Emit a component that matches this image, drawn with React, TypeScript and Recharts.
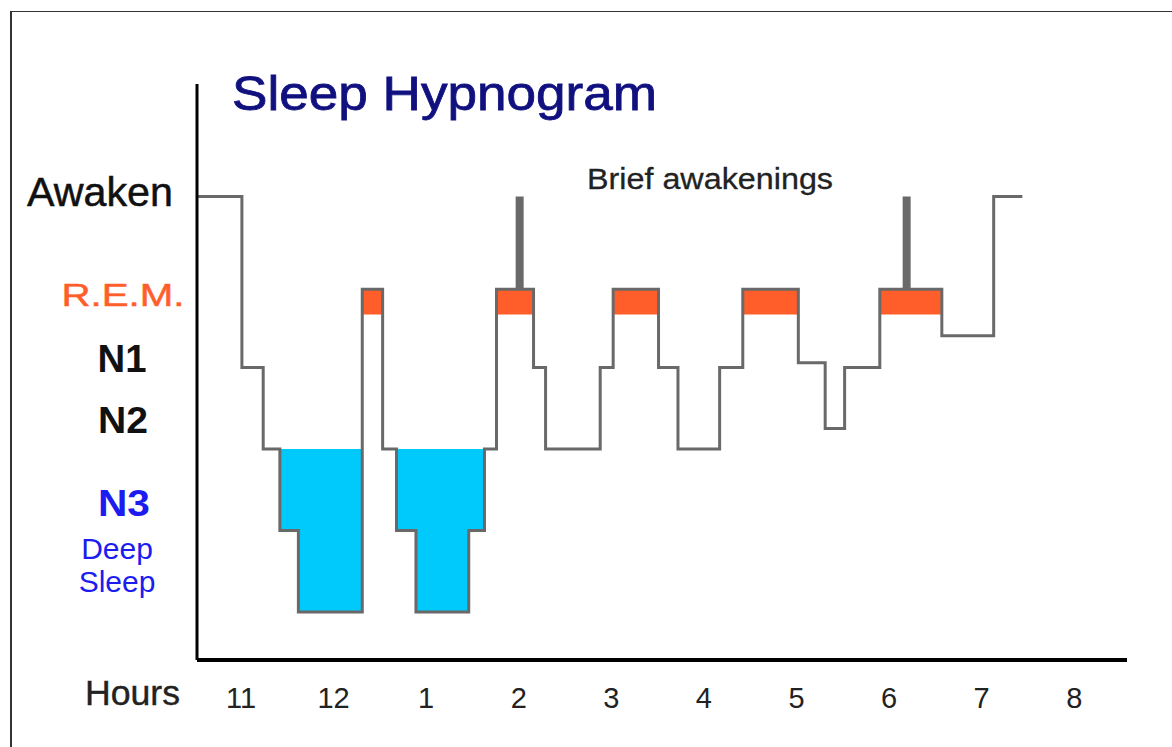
import { ComposedChart, Line, Area, XAxis, YAxis, ReferenceLine } from "recharts";

// stage levels on the y scale
const N4 = 0;
const N3 = 1;
const N2 = 2;
const N1 = 3;
const REM = 3.96;
const WAKE = 5.1;

// hours after 11 pm at which each stage starts, and the stage entered
const stageStart = [
  -0.475, 0.01, 0.24, 0.42, 0.62, 1.31, 1.53, 1.68, 1.89, 2.46, 2.63, 2.76, 3.16, 3.29,
  3.88, 4.02, 4.51, 4.72, 5.17, 5.42, 6.02, 6.31, 6.52, 6.9, 7.57, 8.13, 8.44,
];
const stageLevel = [
  WAKE, N1, N2, N3, N4, REM, N2, N3, N4, N3, N2, REM, N1, N2,
  N1, REM, N1, N2, N1, REM, 3.06, 2.25, N1, REM, 3.39, WAKE, WAKE,
];

// brief awakenings during REM
const briefWakeAt = [3.01, 7.19];

const hourTicks = [0, 1, 2, 3, 4, 5, 6, 7, 8, 9];
const hourLabels = ["11", "12", "1", "2", "3", "4", "5", "6", "7", "8"];

const stageTicks = [WAKE, REM, N1, N2, N3];
const stageNames = ["Awaken", "R.E.M.", "N1", "N2", "N3"];
const deepSleepNote = ["Deep", "Sleep"];

const REM_BAND = 0.31;

const W = 1172;
const H = 747;
const PLOT_LEFT = 197;
const PLOT_RIGHT = 1127;
const PLOT_TOP = 84;
const PLOT_BOTTOM = 660;
const FONT = "'Liberation Sans', Arial, Helvetica, sans-serif";

const data = stageStart.map((hour, i) => ({ hour, stage: stageLevel[i] }));

const labelStyle: Record<string, any> = {
  Awaken: { cx: 100, dy: 10, size: 41, weight: 400, color: "#111", len: 146 },
  "R.E.M.": { cx: 123, dy: 17, size: 32, weight: 400, color: "#ff5e2b", len: 123 },
  N1: { cx: 122, dy: 4, size: 38, weight: 700, color: "#111", len: 49 },
  N2: { cx: 123, dy: -16, size: 37, weight: 700, color: "#111", len: 50 },
  N3: { cx: 124, dy: -14, size: 37, weight: 700, color: "#1c1cf0", len: 52 },
};

function StageTick({ y, payload }: any) {
  const i = stageTicks.indexOf(payload.value);
  if (i < 0) return null;
  const name = stageNames[i];
  const s = labelStyle[name];
  return (
    <g>
      <text
        x={s.cx}
        y={y + s.dy}
        textAnchor="middle"
        fontFamily={FONT}
        fontSize={s.size}
        fontWeight={s.weight}
        fill={s.color}
        stroke={s.weight < 700 ? s.color : "none"}
        strokeWidth={0.5}
        textLength={s.len}
        lengthAdjust="spacingAndGlyphs"
      >
        {name}
      </text>
      {name === "N3" &&
        deepSleepNote.map((t, k) => (
          <text
            key={t}
            x={117}
            y={y + 29 + k * 33}
            textAnchor="middle"
            fontFamily={FONT}
            fontSize={30}
            fill="#1c1cf0"
          >
            {t}
          </text>
        ))}
    </g>
  );
}

function HourTick({ x, payload }: any) {
  const i = hourTicks.indexOf(payload.value);
  return (
    <text
      x={x}
      y={PLOT_BOTTOM + 48}
      textAnchor="middle"
      fontFamily={FONT}
      fontSize={29}
      fill="#222"
    >
      {hourLabels[i]}
    </text>
  );
}

export default function App() {
  return (
    <div
      style={{
        position: "fixed",
        left: 0,
        top: 0,
        width: W,
        height: H,
        overflow: "hidden",
        background: "#fff",
      }}
    >
      <div
        style={{
          position: "absolute",
          left: 10,
          top: 11,
          width: 1400,
          height: 1000,
          borderLeft: "2px solid #333",
          borderTop: "1px solid #333",
        }}
      />
      <div style={{ position: "absolute", left: 0, top: 0 }}>
        <ComposedChart
          width={W}
          height={H}
          data={data}
          margin={{
            top: PLOT_TOP,
            right: W - PLOT_RIGHT,
            left: PLOT_LEFT - 190,
            bottom: H - PLOT_BOTTOM - 60,
          }}
        >
          <XAxis
            dataKey="hour"
            type="number"
            domain={[-0.475, 9.57]}
            allowDataOverflow
            ticks={hourTicks}
            interval={0}
            tick={<HourTick />}
            tickLine={false}
            tickSize={0}
            height={60}
            axisLine={{ stroke: "#000", strokeWidth: 4 }}
          />
          <YAxis
            type="number"
            domain={[-0.59, 6.48]}
            allowDataOverflow
            ticks={stageTicks}
            interval={0}
            tick={<StageTick />}
            tickLine={false}
            tickSize={0}
            width={190}
            axisLine={{ stroke: "#000", strokeWidth: 3 }}
          />
          <Area
            dataKey={(d: any) => [Math.min(d.stage, N2), N2]}
            type="stepAfter"
            stroke="none"
            fill="#00c9fb"
            fillOpacity={1}
            isAnimationActive={false}
          />
          <Area
            dataKey={(d: any) => (d.stage === REM ? [REM - REM_BAND, REM] : [REM, REM])}
            type="stepAfter"
            stroke="none"
            fill="#ff5e2b"
            fillOpacity={1}
            isAnimationActive={false}
          />
          <Line
            dataKey="stage"
            type="stepAfter"
            stroke="#696969"
            strokeWidth={3}
            dot={false}
            activeDot={false}
            isAnimationActive={false}
          />
          {briefWakeAt.map((t) => (
            <ReferenceLine
              key={t}
              segment={[
                { x: t, y: REM },
                { x: t, y: WAKE },
              ]}
              stroke="#696969"
              strokeWidth={8}
              ifOverflow="visible"
            />
          ))}
        </ComposedChart>
      </div>
      <svg
        width={W}
        height={H}
        style={{ position: "absolute", left: 0, top: 0, pointerEvents: "none" }}
      >
        <text
          x={232}
          y={110}
          fontFamily={FONT}
          fontSize={49}
          fill="#10107f"
          stroke="#10107f"
          strokeWidth={0.8}
          textLength={425}
          lengthAdjust="spacingAndGlyphs"
        >
          Sleep Hypnogram
        </text>
        <text
          x={587}
          y={189}
          fontFamily={FONT}
          fontSize={29}
          fill="#222"
          stroke="#222"
          strokeWidth={0.3}
          textLength={246}
          lengthAdjust="spacingAndGlyphs"
        >
          Brief awakenings
        </text>
        <text
          x={85}
          y={705}
          fontFamily={FONT}
          fontSize={35}
          fill="#222"
          stroke="#222"
          strokeWidth={0.4}
          textLength={95}
          lengthAdjust="spacingAndGlyphs"
        >
          Hours
        </text>
      </svg>
    </div>
  );
}
